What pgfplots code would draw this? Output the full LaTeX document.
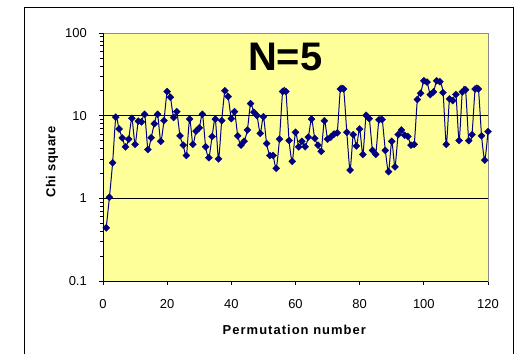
\documentclass[border=0pt]{standalone}
\usepackage{pgfplots}
\pgfplotsset{compat=1.18}
\usepackage{fontspec}
\setmainfont{Liberation Sans}
\definecolor{navyc}{HTML}{000080}
\definecolor{bgyel}{HTML}{FFFF99}
\newcommand{\tfont}{\fontsize{13}{15}\selectfont}
\pgfplotstableread{
x y
1 0.44
2 1.03
3 2.7
4 9.6
5 6.9
6 5.4
7 4.2
8 5.2
9 9.3
10 4.5
11 8.6
12 8.4
13 10.4
14 3.9
15 5.4
16 8.0
17 10.4
18 4.9
19 8.7
20 19.6
21 16.7
22 9.5
23 11.2
24 5.7
25 4.4
26 3.3
27 9.1
28 4.5
29 6.5
30 7.1
31 10.4
32 4.2
33 3.1
34 5.6
35 9.1
36 3.0
37 8.7
38 20
39 17
40 9.2
41 11.2
42 5.7
43 4.4
44 4.9
45 6.7
46 14
47 11
48 10
49 6.1
50 9.7
51 4.6
52 3.3
53 3.3
54 2.3
55 5.2
56 19.6
57 19.6
58 5.0
59 2.8
60 6.3
61 4.2
62 4.9
63 4.2
64 5.5
65 9.1
66 5.3
67 4.4
68 3.7
69 8.7
70 5.2
71 5.5
72 6.0
73 6.2
74 21
75 21
76 6.3
77 2.2
78 5.9
79 4.3
80 6.9
81 3.4
82 10.1
83 9.2
84 3.8
85 3.4
86 8.9
87 9.0
88 3.8
89 2.1
90 4.9
91 2.4
92 5.9
93 6.7
94 5.8
95 5.6
96 4.4
97 4.5
98 15.7
99 18.7
100 26.4
101 25.5
102 18
103 19.4
104 26.4
105 25.8
106 19
107 4.5
108 16
109 15.2
110 18
111 5.0
112 19.4
113 20.6
114 5.0
115 5.9
116 21
117 21
118 5.7
119 2.9
120 6.4
}\chidata
\begin{document}
\begin{tikzpicture}
\path[use as bounding box] (-103bp,-73bp) rectangle (417bp,281bp);
\begin{axis}[
  at={(0,0)}, anchor=south west,
  scale only axis,
  width=385bp, height=248bp,
  xmin=0, xmax=120, ymin=0.1, ymax=100,
  ymode=log,
  xtick={0,20,...,120},
  xticklabels={0,20,40,60,80,100,120},
  ytick={0.1,1,10,100},
  yticklabels={0.1,1,10,100},
  minor ytick={},
  /pgf/number format/assume math mode=true,
  axis background/.style={fill=bgyel},
  axis line style={draw=black!45, line width=0.7bp},
  tick align=outside,
  xtick pos=bottom, ytick pos=left,
  major tick length=4bp,
  tick style={black, line width=0.7bp},
  ymajorgrids,
  grid style={black, line width=0.7bp},
  yticklabel style={font=\tfont, inner sep=0pt, anchor=east, xshift=-12bp},
  xticklabel style={font=\tfont, inner sep=0pt, anchor=north, yshift=-14bp},
  xlabel={\addfontfeatures{LetterSpace=8}\bfseries Permutation number},
  ylabel={\addfontfeatures{LetterSpace=4}\bfseries Chi square},
  every axis x label/.style={at={(axis description cs:0.497,-0.1976)}, anchor=center, font=\tfont},
  every axis y label/.style={at={(axis description cs:-0.1325,0.48)}, anchor=center, rotate=90, font=\tfont},
  clip=false,
]
\addplot[navyc, line width=1bp, smooth, tension=0.4, mark=square*, mark size=2.5bp,
  mark options={rotate=45, fill=navyc, draw=navyc, line width=0.3bp}] table[x=x, y=y] {\chidata};
\draw[black, line width=0.8bp] (rel axis cs:0,1) -- (rel axis cs:0,0) -- (rel axis cs:1,0);
\node[font=\fontsize{40}{44}\selectfont\bfseries, anchor=center] at (axis description cs:0.473,0.903) {N=5};
\end{axis}
\draw[black, line width=0.8bp] (-79bp,-90bp) -- (-79bp,274bp) -- (410bp,274bp) -- (410bp,-90bp);
\end{tikzpicture}
\end{document}
